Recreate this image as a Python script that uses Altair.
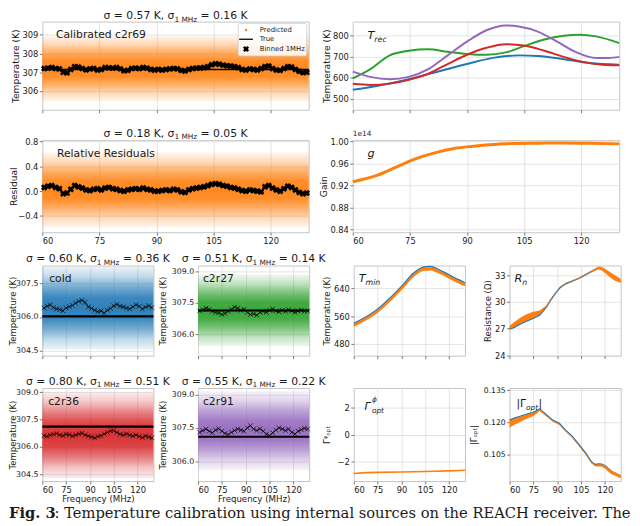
import altair as alt
import pandas as pd

FONT = "DejaVu Sans"
SERIF = "DejaVu Serif"
ORANGE, BLUE, GREEN, RED, PURPLE = "#ff7f0e", "#1f77b4", "#2ca02c", "#d62728", "#9467bd"
RGB = {ORANGE: (255, 127, 14), BLUE: (31, 119, 180), GREEN: (44, 160, 44),
       RED: (214, 39, 40), PURPLE: (148, 103, 189)}
INK = "#1a1a1a"
XPATH = "M-1,-1L1,1M-1,1L1,-1"

XDOM = [60, 130]
XTICKS = [60, 75, 90, 105, 120]

# ------------------------------------------------------------------ data
freq_1mhz = [60.5 + i for i in range(70)]
freq_2mhz = [61 + 2 * i for i in range(35)]
band_freq = [60, 95, 130]

# Calibrated c2r69 (orange): true level, 1 MHz binned means, envelope of the scatter cloud
c2r69_true = 307.15
c2r69_binned = [307.20, 307.22, 307.25, 307.20, 307.18, 307.00, 306.97, 307.15, 307.30, 307.28,
                307.20, 307.13, 307.18, 307.20, 307.12, 307.15, 307.25, 307.24, 307.22, 307.25,
                307.18, 307.08, 307.10, 307.20, 307.22, 307.20, 307.25, 307.22, 307.15, 307.12,
                307.15, 307.12, 307.15, 307.18, 307.20, 307.18, 307.10, 307.07, 307.15, 307.20,
                307.22, 307.23, 307.25, 307.30, 307.40, 307.45, 307.43, 307.38, 307.35, 307.33,
                307.30, 307.25, 307.15, 307.12, 307.18, 307.15, 307.12, 307.20, 307.30, 307.33,
                307.20, 307.12, 307.10, 307.20, 307.30, 307.28, 307.15, 307.05, 306.98, 307.00]
c2r69_cloud = ([305.45, 305.45, 305.45], [308.95, 308.95, 308.95])

# Relative residuals
resid_binned = [0.06, 0.08, 0.09, 0.06, 0.04, -0.04, -0.03, 0.03, 0.09, 0.07,
                0.05, 0.02, 0.01, 0.03, 0.04, 0.02, 0.05, 0.06, 0.04, 0.03,
                0.01, 0.00, 0.02, 0.03, 0.04, 0.03, 0.05, 0.03, 0.02, 0.00,
                0.00, 0.01, 0.02, 0.01, 0.03, 0.02, -0.01, -0.02, 0.02, 0.04,
                0.05, 0.06, 0.07, 0.09, 0.11, 0.12, 0.11, 0.09, 0.08, 0.06,
                0.05, 0.03, 0.01, 0.00, 0.02, 0.01, 0.00, -0.01, 0.07, 0.09,
                0.05, 0.02, 0.00, 0.04, 0.08, 0.06, 0.02, -0.02, -0.04, -0.03]
resid_cloud = ([-0.58, -0.58, -0.58], [0.62, 0.62, 0.62])

# cold (blue)
cold_true = 306.03
cold_binned = [306.40, 306.48, 306.55, 306.42, 306.36, 306.33, 306.28, 306.40, 306.46, 306.52,
               306.62, 306.70, 306.74, 306.65, 306.45, 306.38, 306.30, 306.24, 306.27, 306.18,
               306.30, 306.38, 306.50, 306.56, 306.48, 306.45, 306.40, 306.36, 306.45, 306.55,
               306.48, 306.36, 306.44, 306.50, 306.42]
cold_cloud = ([304.55, 304.55, 304.55], [308.25, 308.25, 308.25])

# c2r27 (green)
c2r27_true = 307.14
c2r27_binned = [307.12, 307.18, 307.25, 307.20, 307.10, 307.05, 307.02, 306.95, 307.00, 307.10,
                307.20, 307.30, 307.25, 307.15, 307.20, 307.05, 306.95, 306.98, 306.92, 307.05,
                307.10, 307.05, 307.15, 307.22, 307.12, 307.08, 307.15, 307.10, 307.18, 307.12,
                307.05, 307.12, 307.15, 307.10, 307.12]
c2r27_cloud = ([305.45, 305.45, 305.45], [308.85, 308.85, 308.85])

# c2r36 (red)
c2r36_true = 307.12
c2r36_binned = [306.62, 306.58, 306.65, 306.70, 306.74, 306.66, 306.62, 306.70, 306.68, 306.60,
                306.66, 306.72, 306.75, 306.66, 306.60, 306.55, 306.50, 306.58, 306.62, 306.72,
                306.80, 306.88, 306.90, 306.80, 306.70, 306.66, 306.72, 306.65, 306.60, 306.66,
                306.58, 306.52, 306.60, 306.55, 306.50]
c2r36_cloud = ([304.30, 304.30, 304.30], [309.00, 309.00, 309.00])

# c2r91 (purple)
c2r91_true = 307.10
c2r91_binned = [307.30, 307.38, 307.45, 307.35, 307.28, 307.40, 307.46, 307.35, 307.25, 307.20,
                307.30, 307.38, 307.45, 307.40, 307.35, 307.50, 307.60, 307.45, 307.38, 307.46,
                307.35, 307.22, 307.15, 307.28, 307.40, 307.50, 307.45, 307.38, 307.45, 307.30,
                307.22, 307.35, 307.42, 307.48, 307.45]
c2r91_cloud = ([305.60, 305.60, 305.60], [309.15, 309.15, 309.15])

# T_rec curves
trec_blue_f = [60, 66.3, 74.7, 83.2, 90, 96.8, 103.6, 108.6, 115.4, 122.2, 130]
trec_blue = [543, 561, 593, 633, 665, 694, 706, 703, 688, 670, 662]
trec_green_f = [60, 64.6, 69.7, 74.7, 79.8, 84.9, 90, 95.1, 100.2, 105.3, 110.3, 115.4, 119.7, 123.9, 130]
trec_green = [597, 641, 706, 728, 735, 723, 713, 709, 720, 752, 781, 799, 804, 796, 764]
trec_red_f = [60, 64.6, 69.7, 74.7, 79.8, 84.9, 90, 95.1, 100.2, 105.3, 110.3, 115.4, 120.5, 125.6, 130]
trec_red = [571, 566, 572, 590, 619, 665, 709, 742, 759, 752, 728, 699, 674, 662, 659]
trec_purple_f = [60, 64.6, 69.7, 74.7, 79.8, 84.9, 90, 95.1, 100.2, 103.6, 108.6, 113.7, 118.8, 123.9, 127.3, 130]
trec_purple = [629, 604, 593, 604, 641, 706, 771, 825, 848, 843, 819, 771, 720, 694, 694, 699]

# gain (units of 1e14)
gain_f = [60, 66.3, 71.4, 76.4, 81.5, 86.6, 91.7, 96.8, 101.9, 108.6, 115.4, 122.2, 130]
gain_v = [0.9265, 0.938, 0.953, 0.968, 0.979, 0.987, 0.991, 0.994, 0.996, 0.9965, 0.997, 0.9965, 0.9953]

# T_min
tmin_f = [60, 67, 75, 83, 91.5, 97.7, 103.8, 108, 114, 120, 126, 130]
tmin_lo = [529, 546, 569, 602, 642, 673, 690, 692, 682, 668, 654, 646]
tmin_hi = [538, 555, 578, 611, 651, 682, 699, 701, 691, 677, 663, 655]
tmin_blue = [539, 556, 580, 613, 653, 684, 701, 703, 693, 679, 665, 656]

# R_n
rn_f = [60, 63, 66.6, 70, 74.8, 78.9, 83.1, 86, 89.2, 92, 95.4, 99.5, 103.6, 107.7, 111.8, 116, 118, 120.1, 123, 126.3, 130]
rn_lo = [26.95, 27.2, 27.55, 27.85, 28.2, 28.55, 29.4, 30.25, 31.05, 31.65, 32.05, 32.35, 32.65, 33.05, 33.42, 33.72, 33.55, 33.25, 32.8, 32.4, 32.15]
rn_hi = [27.3, 27.75, 28.2, 28.55, 28.9, 29.05, 29.6, 30.35, 31.15, 31.75, 32.15, 32.45, 32.75, 33.15, 33.58, 33.98, 33.95, 33.75, 33.4, 33.0, 32.6]
rn_blue = [26.95, 27.15, 27.5, 27.8, 28.15, 28.5, 29.4, 30.25, 31.05, 31.65, 32.05, 32.35, 32.65, 33.05, 33.45, 33.8, 33.7, 33.45, 33.05, 32.6, 32.3]

# Gamma_opt phase
phase_f = [60, 68, 75, 90, 105, 120, 130]
phase_v = [-2.87, -2.80, -2.78, -2.75, -2.72, -2.67, -2.63]

# |Gamma_opt|
gam_f = [60, 63, 66.6, 70, 74.8, 77, 78.9, 83, 87.2, 91.3, 95, 99.5, 103.6, 107.7, 111.8, 114, 116, 118, 120.1, 122, 124.2, 127, 130]
gam_lo = [0.1176, 0.1189, 0.1202, 0.1214, 0.1228, 0.1240, 0.1253, 0.1229, 0.1203, 0.1188, 0.1159, 0.1127, 0.1090, 0.1052, 0.1007, 0.0995, 0.0995, 0.0993, 0.0986, 0.0972, 0.0959, 0.0950, 0.0939]
gam_hi = [0.1208, 0.1217, 0.1226, 0.1234, 0.1244, 0.1252, 0.1261, 0.1235, 0.1209, 0.1194, 0.1165, 0.1133, 0.1096, 0.1058, 0.1013, 0.1003, 0.1005, 0.1005, 0.1000, 0.0988, 0.0975, 0.0966, 0.0955]
gam_blue = [0.1210, 0.1219, 0.1228, 0.1236, 0.1246, 0.1253, 0.1262, 0.1236, 0.1210, 0.1195, 0.1166, 0.1134, 0.1097, 0.1059, 0.1014, 0.1004, 0.1006, 0.1005, 0.0999, 0.0986, 0.0972, 0.0962, 0.0950]

# ------------------------------------------------------------------ helpers
def X(labels=True, title=None):
    ax = alt.Axis(values=XTICKS, labels=labels, title=title, grid=True, domain=False,
                  tickSize=3, tickColor="#555555", tickWidth=0.8,
                  labelFont=FONT, labelFontSize=8.5, labelColor=INK, labelPadding=1.5,
                  gridColor="#dddddd", gridWidth=0.8,
                  titleFont=FONT, titleFontSize=8.8, titleFontWeight="normal",
                  titleColor=INK, titlePadding=1)
    return alt.X("f:Q", scale=alt.Scale(domain=XDOM, nice=False, zero=False), axis=ax)


def Yf(domain, values, fmt, title, tx, lfs=8.5, tfs=9.3):
    ax = alt.Axis(values=values, format=fmt, title=title, titleX=tx, grid=True, domain=False,
                  tickSize=3, tickColor="#555555", tickWidth=0.8,
                  labelFont=FONT, labelFontSize=lfs, labelColor=INK, labelPadding=1.5,
                  gridColor="#dddddd", gridWidth=0.8,
                  titleFont=FONT, titleFontSize=tfs, titleFontWeight="normal", titleColor=INK)
    sc = alt.Scale(domain=domain, nice=False, zero=False)
    return lambda field: alt.Y(f"{field}:Q", scale=sc, axis=ax)


def T(s, x, y, size=11, align="left", baseline="alphabetic", style="normal",
      weight="normal", font=FONT, color=INK):
    return alt.Chart(pd.DataFrame({"t": [s]})).mark_text(
        align=align, baseline=baseline, fontSize=size, fontStyle=style,
        fontWeight=weight, font=font, color=color).encode(
        x=alt.value(x), y=alt.value(y), text="t:N")


def extent(top, bottom):
    # invisible guide that fixes a row's outer extent so the rows stack predictably
    return alt.Chart(pd.DataFrame({"a": [0]})).mark_rule(strokeOpacity=0, strokeWidth=1).encode(
        x=alt.value(-33.5), y=alt.value(-top), y2=alt.value(bottom))


def sigma_title(sig, sig1, w, y=-3.5):
    xa = w / 2 - 1.1
    return [T(f"σ = {sig} K, σ", xa, y, 11, align="right"),
            T("1 MHz", xa, y + 2.5, 7.5),
            T(f"= {sig1} K", xa + 23.2 + 3.5, y, 11)]


def cloud_fill(color):
    r, g, b = RGB[color]
    stops = [(0.0, 0.08), (0.12, 0.28), (0.25, 0.62), (0.38, 0.88), (0.5, 0.93),
             (0.62, 0.88), (0.75, 0.62), (0.88, 0.28), (1.0, 0.08)]
    return alt.Gradient(gradient="linear", x1=0, x2=0, y1=0, y2=1,
                        stops=[alt.GradientStop(offset=o, color=f"rgba({r},{g},{b},{a})") for o, a in stops])


def scatter_panel(w, h, color, cloud, true_val, bf, bv, yspec, xspec, big, extra):
    lo, hi = cloud
    layers = [alt.Chart(pd.DataFrame({"f": band_freq, "lo": lo, "hi": hi})).mark_area(
        color=cloud_fill(color)).encode(x=xspec, y=yspec("lo"), y2=alt.Y2("hi:Q"))]
    if true_val is not None:
        df = pd.DataFrame({"f": XDOM, "v": [true_val, true_val]})
        layers.append(alt.Chart(df).mark_line(color="black", strokeWidth=1.5 if big else 2.2).encode(
            x=xspec, y=yspec("v")))
    dfb = pd.DataFrame({"f": bf, "v": bv})
    if big:
        layers.append(alt.Chart(dfb).mark_point(shape="cross", angle=45, filled=True, size=44,
                                                color="black", opacity=1).encode(x=xspec, y=yspec("v")))
    else:
        layers.append(alt.Chart(dfb).mark_line(color="black", strokeWidth=0.6).encode(x=xspec, y=yspec("v")))
        layers.append(alt.Chart(dfb).mark_point(shape=XPATH, filled=False, size=22, strokeWidth=0.7,
                                                color="black", opacity=1).encode(x=xspec, y=yspec("v")))
    layers += extra
    return alt.layer(*layers).properties(width=w, height=h)


WW, SW = 272, 113.5
H1, H2, H3, H4 = 90, 94, 92, 95
SPW, SPS = 45, 45

# ------------------------------------------------------------------ row 1
legend = [
    alt.Chart(pd.DataFrame({"a": [0]})).mark_rect(fill="white", fillOpacity=0.85, stroke="#cccccc",
                                                 strokeWidth=0.8, cornerRadius=2).encode(
        x=alt.value(200), x2=alt.value(270), y=alt.value(2), y2=alt.value(35)),
    alt.Chart(pd.DataFrame({"a": [0]})).mark_point(shape="circle", filled=True, size=6, color=ORANGE,
                                                  opacity=1).encode(x=alt.value(208), y=alt.value(8.5)),
    alt.Chart(pd.DataFrame({"a": [0]})).mark_rule(color="black", strokeWidth=1.3).encode(
        x=alt.value(201), x2=alt.value(215), y=alt.value(18)),
    alt.Chart(pd.DataFrame({"a": [0]})).mark_point(shape="cross", angle=45, filled=True, size=40,
                                                  color="black", opacity=1).encode(x=alt.value(208), y=alt.value(28)),
    T("Predicted", 222, 8.5, 7, baseline="middle"),
    T("True", 222, 18, 7, baseline="middle"),
    T("Binned 1MHz", 222, 28, 7, baseline="middle"),
]
p_tl = scatter_panel(
    WW, H1, ORANGE, c2r69_cloud, c2r69_true, freq_1mhz, c2r69_binned,
    Yf([305.0, 309.7], [306, 307, 308, 309], "d", "Temperature (K)", -22),
    X(labels=False), True,
    [T("Calibrated c2r69", 14, 17, 11)] + legend + sigma_title("0.57", "0.16", WW, y=-2.5)
    + [extent(13, H1 + 12)])

ytrec = Yf([448, 866], [500, 600, 700, 800], "d", "Temperature (K)", -22)
xw = X(labels=False)
trec_layers = []
for fl, vl, col in [(trec_blue_f, trec_blue, BLUE), (trec_green_f, trec_green, GREEN),
                    (trec_red_f, trec_red, RED), (trec_purple_f, trec_purple, PURPLE)]:
    trec_layers.append(alt.Chart(pd.DataFrame({"f": fl, "v": vl})).mark_line(
        color=col, strokeWidth=2, interpolate="monotone").encode(x=xw, y=ytrec("v")))
p_trec = alt.layer(*trec_layers, T("T", 15, 18, 11.5, style="italic"),
                   T("rec", 22, 21, 8, style="italic")).properties(width=WW, height=H1)

# ------------------------------------------------------------------ row 2
p_res = scatter_panel(
    WW, H2, ORANGE, resid_cloud, None, freq_1mhz, resid_binned,
    Yf([-0.66, 0.82], [-0.4, 0.0, 0.4, 0.8], ".1f", "Residual", -24),
    X(labels=True), True,
    [T("Relative Residuals", 15, 17, 11)] + sigma_title("0.18", "0.05", WW)
    + [extent(17, H2 + 14.5)])

ygain = Yf([0.835, 1.002], [0.84, 0.88, 0.92, 0.96, 1.00], ".2f", "Gain", -24.5)
xg = X(labels=True)
p_gain = alt.layer(
    alt.Chart(pd.DataFrame({"f": gain_f, "v": gain_v})).mark_line(
        color=ORANGE, strokeWidth=3, interpolate="monotone").encode(x=xg, y=ygain("v")),
    T("g", 15, 17, 11.5, style="italic"),
    T("1e14", 0, -4, 7.5),
).properties(width=WW, height=H2)

# ------------------------------------------------------------------ row 3
p_cold = scatter_panel(
    SW, H3, BLUE, cold_cloud, cold_true, freq_2mhz, cold_binned,
    Yf([304.27, 308.3], [304.5, 306.0, 307.5], ".1f", "Temperature (K)", -25, lfs=8, tfs=8.7),
    X(labels=False), False,
    [T("cold", 7, 17, 11)] + sigma_title("0.60", "0.36", SW) + [extent(18.5, H3 + 12)])

p_c2r27 = scatter_panel(
    SW, H3, GREEN, c2r27_cloud, c2r27_true, freq_2mhz, c2r27_binned,
    Yf([305.0, 309.27], [306.0, 307.5, 309.0], ".1f", "Temperature (K)", -31.5, lfs=8, tfs=8.7),
    X(labels=False), False,
    [T("c2r27", 5, 17, 11)] + sigma_title("0.51", "0.14", SW))

ytmin = Yf([446, 706], [480, 560, 640], "d", "Temperature (K)", -22.5, tfs=8.7)
xs = X(labels=False)
p_tmin = alt.layer(
    alt.Chart(pd.DataFrame({"f": tmin_f, "v": tmin_blue})).mark_line(
        color=BLUE, strokeWidth=1.5, interpolate="monotone").encode(x=xs, y=ytmin("v")),
    alt.Chart(pd.DataFrame({"f": tmin_f, "lo": tmin_lo, "hi": tmin_hi})).mark_area(
        color=ORANGE, opacity=1, interpolate="monotone").encode(x=xs, y=ytmin("lo"), y2=alt.Y2("hi:Q")),
    T("T", 5, 17, 11.5, style="italic"), T("min", 12, 20, 8, style="italic"),
).properties(width=SW, height=H3)

yrn = Yf([23.95, 34.1], [24, 27, 30, 33], "d", "Resistance (Ω)", -17, tfs=8.7)
p_rn = alt.layer(
    alt.Chart(pd.DataFrame({"f": rn_f, "v": rn_blue})).mark_line(
        color=BLUE, strokeWidth=1.5).encode(x=xs, y=yrn("v")),
    alt.Chart(pd.DataFrame({"f": rn_f, "lo": rn_lo, "hi": rn_hi})).mark_area(
        color=ORANGE, opacity=1).encode(x=xs, y=yrn("lo"), y2=alt.Y2("hi:Q")),
    T("R", 5, 17, 11.5, style="italic"), T("n", 13, 20, 8, style="italic"),
).properties(width=SW, height=H3)

# ------------------------------------------------------------------ row 4
caption = [
    T("Fig. 3", -34, 133, 15, weight="bold", font=SERIF),
    T(": Temperature calibration using internal sources on the REACH receiver. The",
      12.5, 133, 15, font=SERIF),
]
p_c2r36 = scatter_panel(
    SW, H4, RED, c2r36_cloud, c2r36_true, freq_2mhz, c2r36_binned,
    Yf([304.14, 309.23], [304.5, 306.0, 307.5, 309.0], ".1f", "Temperature (K)", -25, lfs=8, tfs=8.7),
    X(labels=True, title="Frequency (MHz)"), False,
    [T("c2r36", 6, 17, 11)] + sigma_title("0.80", "0.51", SW) + caption + [extent(19, H4 + 20)])

p_c2r91 = scatter_panel(
    SW, H4, PURPLE, c2r91_cloud, c2r91_true, freq_2mhz, c2r91_binned,
    Yf([305.1, 309.3], [306.0, 307.5, 309.0], ".1f", "Temperature (K)", -31.5, lfs=8, tfs=8.7),
    X(labels=True, title="Frequency (MHz)"), False,
    [T("c2r91", 5, 17, 11)] + sigma_title("0.55", "0.22", SW))

yph = Yf([-3.42, 3.42], [-2, 0, 2], "d", "Γᵠₒₚₜ", -22.5, tfs=8.7)
xb = X(labels=True)
p_phase = alt.layer(
    alt.Chart(pd.DataFrame({"f": phase_f, "v": phase_v})).mark_line(
        color=ORANGE, strokeWidth=1.6).encode(x=xb, y=yph("v")),
    T("Γ", 11, 22, 11, style="italic"), T("ϕ", 18.5, 14, 7.5, style="italic"),
    T("opt", 18.5, 26, 7.5, style="italic"),
).properties(width=SW, height=H4)

ygam = Yf([0.0927, 0.136], [0.105, 0.120, 0.135], ".3f", "|Γₒₚₜ|", -31.5, lfs=7.8, tfs=8.7)
p_gam = alt.layer(
    alt.Chart(pd.DataFrame({"f": gam_f, "v": gam_blue})).mark_line(
        color=BLUE, strokeWidth=1.5).encode(x=xb, y=ygam("v")),
    alt.Chart(pd.DataFrame({"f": gam_f, "lo": gam_lo, "hi": gam_hi})).mark_area(
        color=ORANGE, opacity=1).encode(x=xb, y=ygam("lo"), y2=alt.Y2("hi:Q")),
    T("|Γ", 7, 19, 11), T("opt", 16.8, 22, 7.5, style="italic"), T("|", 29.5, 19, 11),
).properties(width=SW, height=H4)

# ------------------------------------------------------------------ layout
row1 = alt.hconcat(p_tl, p_trec, spacing=SPW, bounds="flush")
row2 = alt.hconcat(p_res, p_gain, spacing=SPW, bounds="flush")
row3 = alt.hconcat(p_cold, p_c2r27, p_tmin, p_rn, spacing=SPS, bounds="flush")
row4 = alt.hconcat(p_c2r36, p_c2r91, p_phase, p_gam, spacing=SPS, bounds="flush")

chart = alt.vconcat(row1, row2, row3, row4, spacing=0).properties(
    padding={"top": -5.5, "left": 0, "right": 0, "bottom": 0}, background="white"
).configure_view(stroke="#c4c4c4", strokeWidth=1)

chart.save("out.html", embed_options={"renderer": "svg", "actions": False})
